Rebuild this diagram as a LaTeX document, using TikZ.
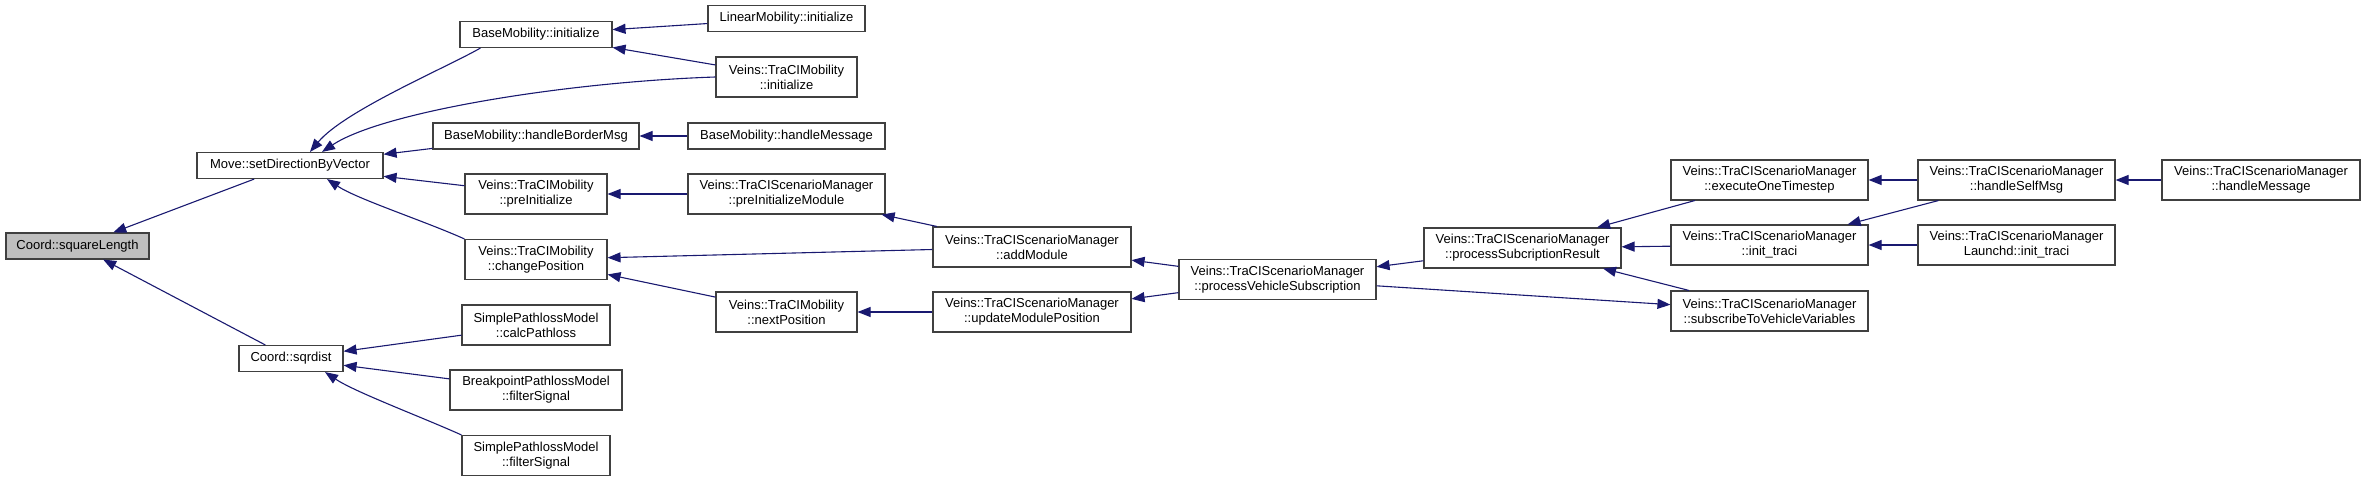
\documentclass[tikz,border=0pt]{standalone}
\usepackage{fontspec}
\setmainfont{Liberation Sans}
\usepackage{tikz}
\usetikzlibrary{arrows.meta,calc}
\usetikzlibrary{positioning}
\usepackage{xcolor}

\definecolor{edgeblue}{HTML}{191970}
\definecolor{boxline}{HTML}{404040}
\definecolor{boxgray}{HTML}{BFBFBF}

\tikzset{
  fn/.style={draw=boxline, fill=white, line width=1.1pt, inner sep=0pt,
             align=center, minimum height=26pt,
             font=\fontsize{13}{15}\selectfont},
  fntwo/.style={fn, minimum height=40pt},
  call/.style={draw=edgeblue, line width=1.1pt,
               -{Triangle[length=13pt,width=10pt]}},
}

\begin{document}
\begin{tikzpicture}[x=1pt,y=-1pt]

\useasboundingbox (0,0) rectangle (2365,481);

% função de partida
\node[fn, fill=boxgray, minimum width=143pt] (sqLen) at (77.5,246) {Coord::squareLength};

% segunda coluna
\node[fn, minimum width=186pt] (moveDir) at (290,165.5) {Move::setDirectionByVector};
\node[fn, minimum width=104pt] (sqrdist) at (291,358.5) {Coord::sqrdist};

% terceira coluna
\node[fn, minimum width=152pt] (bmInit) at (536,34.5) {BaseMobility::initialize};
\node[fn, minimum width=206pt] (bmBorder) at (536,136) {BaseMobility::handleBorderMsg};
\node[fntwo, minimum width=142pt] (tmPreInit) at (536,194) {Veins::TraCIMobility\\::preInitialize};
\node[fntwo, minimum width=142pt] (tmChangePos) at (536,259.5) {Veins::TraCIMobility\\::changePosition};
\node[fntwo, minimum width=148pt] (splCalc) at (536,325) {SimplePathlossModel\\::calcPathloss};
\node[fntwo, minimum width=172pt] (bplFilter) at (536,390) {BreakpointPathlossModel\\::filterSignal};
\node[fntwo, minimum width=148pt] (splFilter) at (536,455.5) {SimplePathlossModel\\::filterSignal};

% quarta coluna
\node[fn, minimum width=157pt] (linInit) at (786.5,18.5) {LinearMobility::initialize};
\node[fntwo, minimum width=141pt] (tmInit) at (786.5,77) {Veins::TraCIMobility\\::initialize};
\node[fn, minimum width=197pt] (bmMsg) at (786.5,136) {BaseMobility::handleMessage};
\node[fntwo, minimum width=197pt] (smPreInitMod) at (786.5,194) {Veins::TraCIScenarioManager\\::preInitializeModule};
\node[fntwo, minimum width=141pt] (tmNextPos) at (786.5,312) {Veins::TraCIMobility\\::nextPosition};

% colunas do TraCIScenarioManager
\node[fntwo, minimum width=198pt] (smAddMod) at (1032,247) {Veins::TraCIScenarioManager\\::addModule};
\node[fntwo, minimum width=198pt] (smUpdPos) at (1032,312) {Veins::TraCIScenarioManager\\::updateModulePosition};
\node[fntwo, minimum width=197pt] (smProcVeh) at (1277.5,279.5) {Veins::TraCIScenarioManager\\::processVehicleSubscription};
\node[fntwo, minimum width=197pt] (smProcRes) at (1522.5,248) {Veins::TraCIScenarioManager\\::processSubcriptionResult};
\node[fntwo, minimum width=197pt] (smExecStep) at (1769.5,180) {Veins::TraCIScenarioManager\\::executeOneTimestep};
\node[fntwo, minimum width=197pt] (smInitTraci) at (1769.5,245) {Veins::TraCIScenarioManager\\::init\_traci};
\node[fntwo, minimum width=197pt] (smSubscribe) at (1769.5,311) {Veins::TraCIScenarioManager\\::subscribeToVehicleVariables};
\node[fntwo, minimum width=197pt] (smSelfMsg) at (2016.5,180) {Veins::TraCIScenarioManager\\::handleSelfMsg};
\node[fntwo, minimum width=197pt] (smLaunchd) at (2016.5,245) {Veins::TraCIScenarioManager\\Launchd::init\_traci};
\node[fntwo, minimum width=198pt] (smHandleMsg) at (2261,180) {Veins::TraCIScenarioManager\\::handleMessage};

% chamadas
\draw[call] (moveDir) -- (sqLen);
\draw[call] (sqrdist) -- (sqLen);

\draw[call] ([xshift=21pt]bmInit.south west) .. controls +(-35,20) and +(34,-41) .. ([xshift=20pt]moveDir.north);
\draw[call] (tmInit.west) .. controls +(-150,5) and +(60,-40) .. ([xshift=32pt]moveDir.north);
\draw[call] (bmBorder) -- (moveDir);
\draw[call] (tmPreInit) -- (moveDir);
\draw[call] (tmChangePos.north west) .. controls +(-40,-18) and +(30,20) .. ([xshift=37pt]moveDir.south);

\draw[call] (splCalc) -- (sqrdist);
\draw[call] (bplFilter) -- (sqrdist);
\draw[call] (splFilter.north west) .. controls +(-40,-18) and +(30,20) .. ([xshift=34pt]sqrdist.south);

\draw[call] (linInit) -- (bmInit);
\draw[call] (tmInit) -- (bmInit);
\draw[call] (bmMsg) -- (bmBorder);
\draw[call] (smPreInitMod) -- (tmPreInit);
\draw[call] (smAddMod) -- (tmChangePos);
\draw[call] (tmNextPos) -- (tmChangePos);

\draw[call] (smAddMod) -- (smPreInitMod);
\draw[call] (smUpdPos) -- (tmNextPos);
\draw[call] (smProcVeh) -- (smAddMod);
\draw[call] (smProcVeh) -- (smUpdPos);
\draw[call] (smProcRes) -- (smProcVeh);
\draw[call] (smProcVeh) -- (smSubscribe);

\draw[call] (smExecStep) -- (smProcRes);
\draw[call] (smInitTraci) -- (smProcRes);
\draw[call] (smSubscribe) -- (smProcRes);
\draw[call] (smSelfMsg) -- (smExecStep);
\draw[call] (smSelfMsg) -- (smInitTraci);
\draw[call] (smLaunchd) -- (smInitTraci);
\draw[call] (smHandleMsg) -- (smSelfMsg);

\end{tikzpicture}
\end{document}
